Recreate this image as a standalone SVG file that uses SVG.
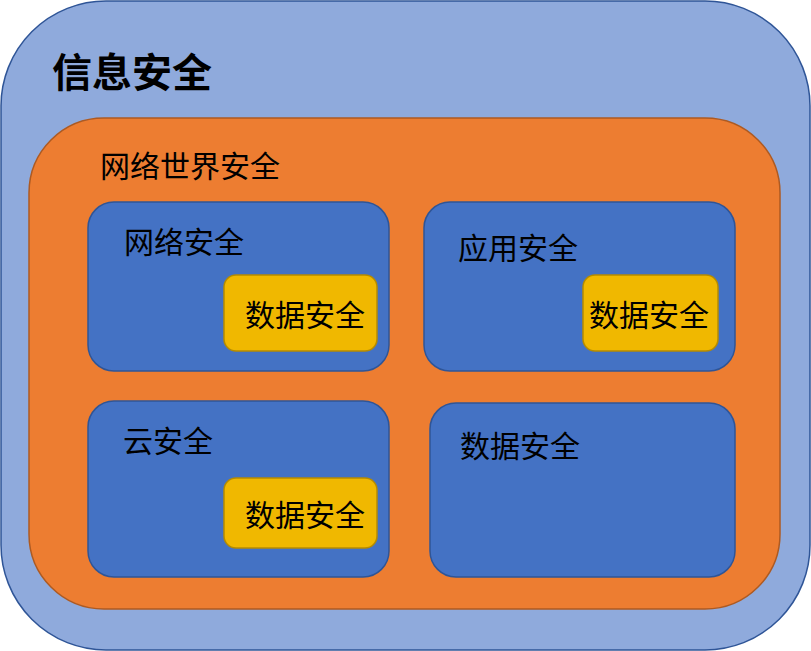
<svg xmlns="http://www.w3.org/2000/svg" width="811" height="651" viewBox="0 0 811 651">
<style>
.t{font-family:"Noto Sans CJK SC","Noto Sans CJK JP",sans-serif;font-size:30px;fill:#000}
.outer{fill:#8FAADC;stroke:#2F5597;stroke-width:1.5}
.mid{fill:#ED7D31;stroke:#AE5A21;stroke-width:1.5}
.blue{fill:#4472C4;stroke:#2F5597;stroke-width:1.5}
.gold{fill:#F0B800;stroke:#B58B00;stroke-width:1.5}
</style>
<g id="info-security">
<rect class="outer" x="1" y="1" width="809" height="649" rx="105" ry="105"/>
<text class="t" x="52" y="87" style="font-size:40px;font-weight:bold">信息安全</text>
</g>
<g id="cyberspace-security">
<rect class="mid" x="29" y="118" width="751" height="491" rx="75" ry="75"/>
<text class="t" x="100" y="177">网络世界安全</text>
</g>
<g id="network-security">
<rect class="blue" x="88" y="202" width="301" height="169" rx="26" ry="26"/>
<text class="t" x="124" y="253">网络安全</text>
</g>
<g id="network-data-security">
<rect class="gold" x="224" y="275" width="153" height="76" rx="12" ry="12"/>
<text class="t" x="245" y="326">数据安全</text>
</g>
<g id="application-security">
<rect class="blue" x="424" y="202" width="311" height="169" rx="26" ry="26"/>
<text class="t" x="458" y="259">应用安全</text>
</g>
<g id="application-data-security">
<rect class="gold" x="583" y="275" width="135" height="76" rx="12" ry="12"/>
<text class="t" x="589" y="326">数据安全</text>
</g>
<g id="cloud-security">
<rect class="blue" x="88" y="401" width="301" height="176" rx="26" ry="26"/>
<text class="t" x="123" y="452">云安全</text>
</g>
<g id="cloud-data-security">
<rect class="gold" x="224" y="478" width="153" height="70" rx="12" ry="12"/>
<text class="t" x="245" y="526">数据安全</text>
</g>
<g id="data-security">
<rect class="blue" x="430" y="403" width="305" height="174" rx="26" ry="26"/>
<text class="t" x="460" y="457">数据安全</text>
</g>
<g id="connectors"></g>
</svg>
